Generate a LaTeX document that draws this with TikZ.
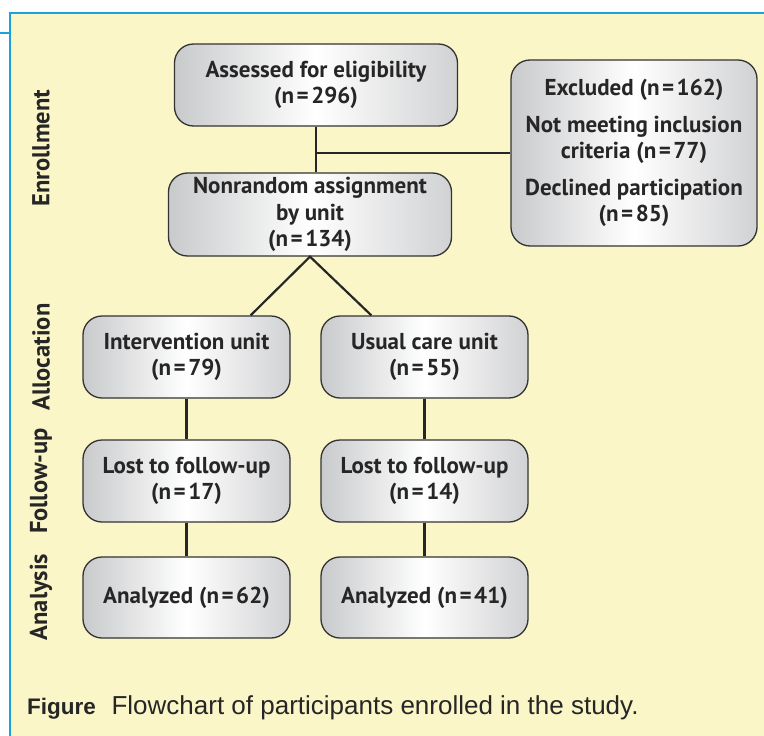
\documentclass[tikz,border=0pt]{standalone}
\usepackage{fontspec}
\setmainfont{Liberation Sans}
\newfontfamily\flowfont{PT Sans}
\usetikzlibrary{positioning,calc}

\definecolor{panelyellow}{HTML}{FAF6C8}
\definecolor{rulebluec}{HTML}{1AA3DA}
\definecolor{boxgray}{HTML}{C9CACC}

\newcommand{\eqn}[1]{(n\kern2.5pt=\kern2.5pt#1)}

\tikzset{
  unitbox/.style={draw=black!80, line width=1.3pt, rounded corners=19pt,
    left color=boxgray, right color=boxgray!85, middle color=white,
    align=center, font=\flowfont\bfseries\fontsize{23}{26.5}\selectfont, text=black!85,
    inner sep=0pt},
  link/.style={line width=2.2pt, black!85},
  phase/.style={rotate=90, font=\flowfont\bfseries\fontsize{24.5}{26}\selectfont, text=black!85}
}

\begin{document}
\begin{tikzpicture}[x=1pt, y=-1pt]
\useasboundingbox (0,0) rectangle (764,736);
%panel
\fill[white] (0,0) rectangle (764,736);
\fill[panelyellow] (10,13) rectangle (764,736);
\draw[rulebluec, line width=2.2pt] (10,736) -- (10,13) -- (764,13);
\draw[rulebluec, line width=1.5pt] (0,33) -- (10,33);

%enrollment
\node[unitbox, minimum width=283pt, minimum height=82pt] (assess) at (316,85)
  {Assessed for eligibility\\\eqn{296}};
\node[unitbox, minimum width=283pt, minimum height=83pt] (nonrand) at (310,214.5)
  {Nonrandom assignment\\by unit\\\eqn{134}};
\node[unitbox, minimum width=246pt, minimum height=186pt] (excl) at (634,153)
  {Excluded \eqn{162}\\[10pt]Not meeting inclusion\\criteria \eqn{77}\\[10pt]Declined participation\\\eqn{85}};

%allocation, follow-up, analysis
\node[unitbox, minimum width=207pt, minimum height=82pt] (interv) at (186.5,357)
  {Intervention unit\\\eqn{79}};
\node[unitbox, minimum width=207pt, minimum height=82pt] (usual) at (424.5,357)
  {Usual care unit\\\eqn{55}};
\node[unitbox, minimum width=207pt, minimum height=82pt] (lostA) at (186.5,481)
  {Lost to follow-up\\\eqn{17}};
\node[unitbox, minimum width=207pt, minimum height=82pt] (lostB) at (424.5,481)
  {Lost to follow-up\\\eqn{14}};
\node[unitbox, minimum width=207pt, minimum height=81pt] (anaA) at (186.5,597.5)
  {Analyzed \eqn{62}};
\node[unitbox, minimum width=207pt, minimum height=81pt] (anaB) at (424.5,597.5)
  {Analyzed \eqn{41}};

%connectors
\coordinate (split) at (assess.south |- excl.west);
\coordinate (leftend) at ([xshift=-40pt]interv.north east);
\coordinate (rightend) at ([xshift=51pt]usual.north west);
\draw[link] (assess.south) -- (assess.south |- nonrand.north);
\draw[link] (split) -- (excl.west);
\draw[link] (leftend) -- (nonrand.south) -- (rightend);
\draw[link] (interv) -- (lostA);
\draw[link] (lostA) -- (anaA);
\draw[link] (usual) -- (lostB);
\draw[link] (lostB) -- (anaB);

%phase labels
\node[phase] (enrol) at (41,148) {Enrollment};
\node[phase] (alloc) at (41,357) {Allocation};
\node[phase] (follow) at (41,481) {Follow-up};
\node[phase] (analys) at (41,597) {Analysis};

%caption
\node[anchor=base west, inner sep=0pt, font=\fontsize{26}{30}\selectfont, text=black!85] (caption) at (27,714)
  {{\fontsize{22.5}{30}\selectfont\textbf{Figure}}\hspace{0.6em}Flowchart of participants enrolled in the study.};
\end{tikzpicture}
\end{document}
